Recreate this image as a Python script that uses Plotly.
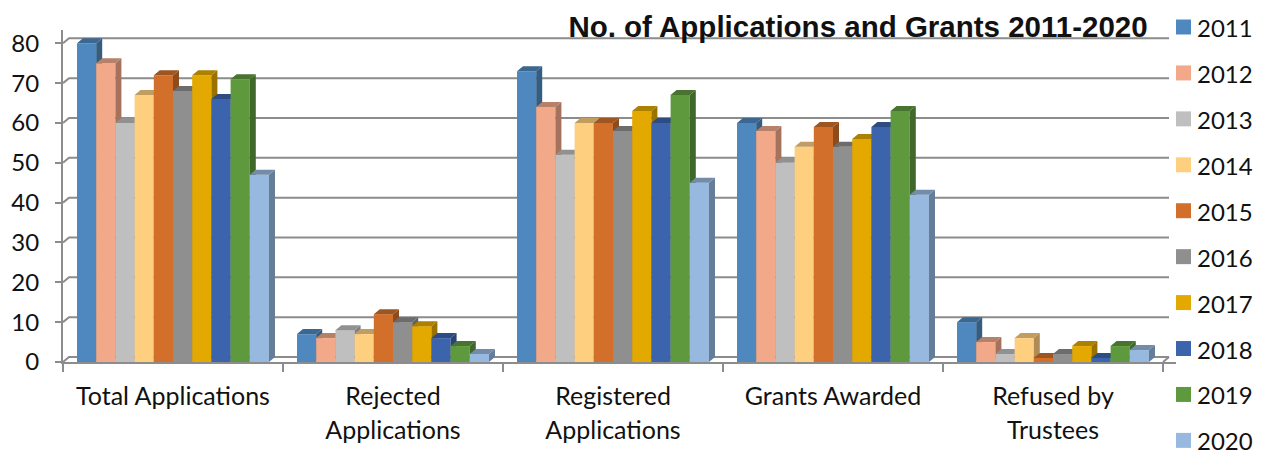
import plotly.graph_objects as go

categories = ["Total Applications", "Rejected<br>Applications", "Registered<br>Applications", "Grants Awarded", "Refused by<br>Trustees"]
years = [2011, 2012, 2013, 2014, 2015, 2016, 2017, 2018, 2019, 2020]
v2011 = [80, 7, 73, 60, 10]
v2012 = [75, 6, 64, 58, 5]
v2013 = [60, 8, 52, 50, 2]
v2014 = [67, 7, 60, 54, 6]
v2015 = [72, 12, 60, 59, 1]
v2016 = [68, 10, 58, 54, 2]
v2017 = [72, 9, 63, 56, 4]
v2018 = [66, 6, 60, 59, 1]
v2019 = [71, 4, 67, 63, 4]
v2020 = [47, 2, 45, 42, 3]
series = [v2011, v2012, v2013, v2014, v2015, v2016, v2017, v2018, v2019, v2020]
colors = ["#4F88BE", "#F2A98A", "#BFBFBF", "#FFCF80", "#D2702B", "#8F8F8F", "#E3A900", "#3B64AD", "#5F993E", "#97B9E0"]
y_ticks = [0, 10, 20, 30, 40, 50, 60, 70, 80]

W, H = 1261, 453
L, R, T, B = 63, 85, 30, 90.5
CAT_PX = 220.0
PX_PER_UNIT = 3.99
plot_w = W - L - R
plot_h = H - T - B
x_range = [-0.5, -0.5 + plot_w / CAT_PX]
y_range = [0, plot_h / PX_PER_UNIT]
DX = 6 / CAT_PX
DY = 5 / PX_PER_UNIT
BAR_W = 19.2 / CAT_PX
GROUP_W = BAR_W * len(years)
GRID = "#8C8C8C"
FONT = "Lato"


def shade(hex_color, f):
    r, g, b = (int(hex_color[i:i + 2], 16) for i in (1, 3, 5))
    return f"rgb({int(r * f)},{int(g * f)},{int(b * f)})"


fig = go.Figure()

# Back wall grid lines with the short diagonal to the front axis
gx, gy = [], []
x_end = len(categories) - 0.5
for t in y_ticks:
    gx += [-0.5, -0.5 + DX, x_end + DX, None]
    gy += [t, t + DY, t + DY, None]
gx += [x_end, x_end + DX]
gy += [0, DY]
fig.add_trace(go.Scatter(x=gx, y=gy, mode="lines", line=dict(color=GRID, width=2),
                         hoverinfo="skip", showlegend=False, cliponaxis=False))

for i, (year, vals, col) in enumerate(zip(years, series, colors)):
    axis = f"y{i + 2}"
    offset = -GROUP_W / 2 + i * BAR_W
    fig.add_trace(go.Bar(x=list(range(len(categories))), y=vals, yaxis=axis, name=str(year),
                         width=BAR_W, offset=offset, marker=dict(color=col, line=dict(width=0)),
                         showlegend=False))
    sx, sy, tx, ty = [], [], [], []
    for c, v in enumerate(vals):
        left = c + offset
        right = left + BAR_W
        sx += [right, right + DX, right + DX, right, right, None]
        sy += [0, DY, v + DY, v, 0, None]
        tx += [left, left + DX, right + DX, right, left, None]
        ty += [v, v + DY, v + DY, v, v, None]
    fig.add_trace(go.Scatter(x=sx, y=sy, yaxis=axis, mode="lines", fill="toself", fillcolor=shade(col, 0.68),
                             line=dict(width=0), hoverinfo="skip", showlegend=False, cliponaxis=False))
    fig.add_trace(go.Scatter(x=tx, y=ty, yaxis=axis, mode="lines", fill="toself", fillcolor=shade(col, 0.76),
                             line=dict(width=0), hoverinfo="skip", showlegend=False, cliponaxis=False))

layout_axes = {}
for i in range(len(years)):
    layout_axes[f"yaxis{i + 2}"] = dict(overlaying="y", range=y_range, visible=False, fixedrange=True, automargin=False)

tick_text = ["<br>".join(f'<span style="font-size:25px">{p}</span>' for p in c.split("<br>")) for c in categories]

# Legend drawn by hand: its row pitch is taller than a native legend can fit on the canvas
shapes, annotations = [], []
for i, (year, col) in enumerate(zip(years, colors)):
    cy = 27 + i * 46
    shapes.append(dict(type="rect", xref="paper", yref="paper", layer="above",
                       x0=(1176 - L) / plot_w, x1=(1191 - L) / plot_w,
                       y0=(H - B - (cy + 7.5)) / plot_h, y1=(H - B - (cy - 7.5)) / plot_h,
                       fillcolor=col, line=dict(width=0)))
    annotations.append(dict(xref="paper", yref="paper", x=(1198 - L) / plot_w, y=(H - B - cy) / plot_h,
                            text=str(year), showarrow=False, xanchor="left", yanchor="middle", xshift=-3,
                            height=22, font=dict(family=FONT, size=24, color="#111111")))

fig.update_layout(
    width=W, height=H, autosize=False, margin=dict(l=L, r=R, t=T, b=B, autoexpand=False),
    paper_bgcolor="white", plot_bgcolor="white", showlegend=False,
    title=dict(text="<b>No. of Applications and Grants 2011-2020</b>", x=858 / W, xanchor="center",
               y=1 - 27 / H, yanchor="middle", font=dict(family="Liberation Sans", size=29.5, color="#111111")),
    xaxis=dict(range=x_range, tickmode="array", tickvals=list(range(len(categories))), ticktext=tick_text,
               ticks="", showgrid=False, zeroline=False, showline=True, linecolor=GRID, linewidth=2,
               tickfont=dict(family=FONT, size=26, color="#111111"), ticklabelstandoff=10, tickangle=0,
               fixedrange=True, automargin=False,
               minor=dict(tickmode="array", tickvals=[k - 0.5 for k in range(len(categories) + 1)],
                          ticks="outside", ticklen=8, tickcolor=GRID, tickwidth=1.5, showgrid=False)),
    yaxis=dict(range=y_range, tickmode="array", tickvals=y_ticks, ticks="outside", ticklen=6, tickcolor=GRID,
               tickwidth=2, showgrid=False, zeroline=False, showline=True, linecolor=GRID, linewidth=2,
               tickfont=dict(family=FONT, size=24, color="#111111"), ticklabelstandoff=11, fixedrange=True,
               automargin=False),
    shapes=shapes, annotations=annotations,
    **layout_axes,
)

fig.write_html("out.html", config={"displayModeBar": False},
               post_script="document.body.style.margin='0';")
